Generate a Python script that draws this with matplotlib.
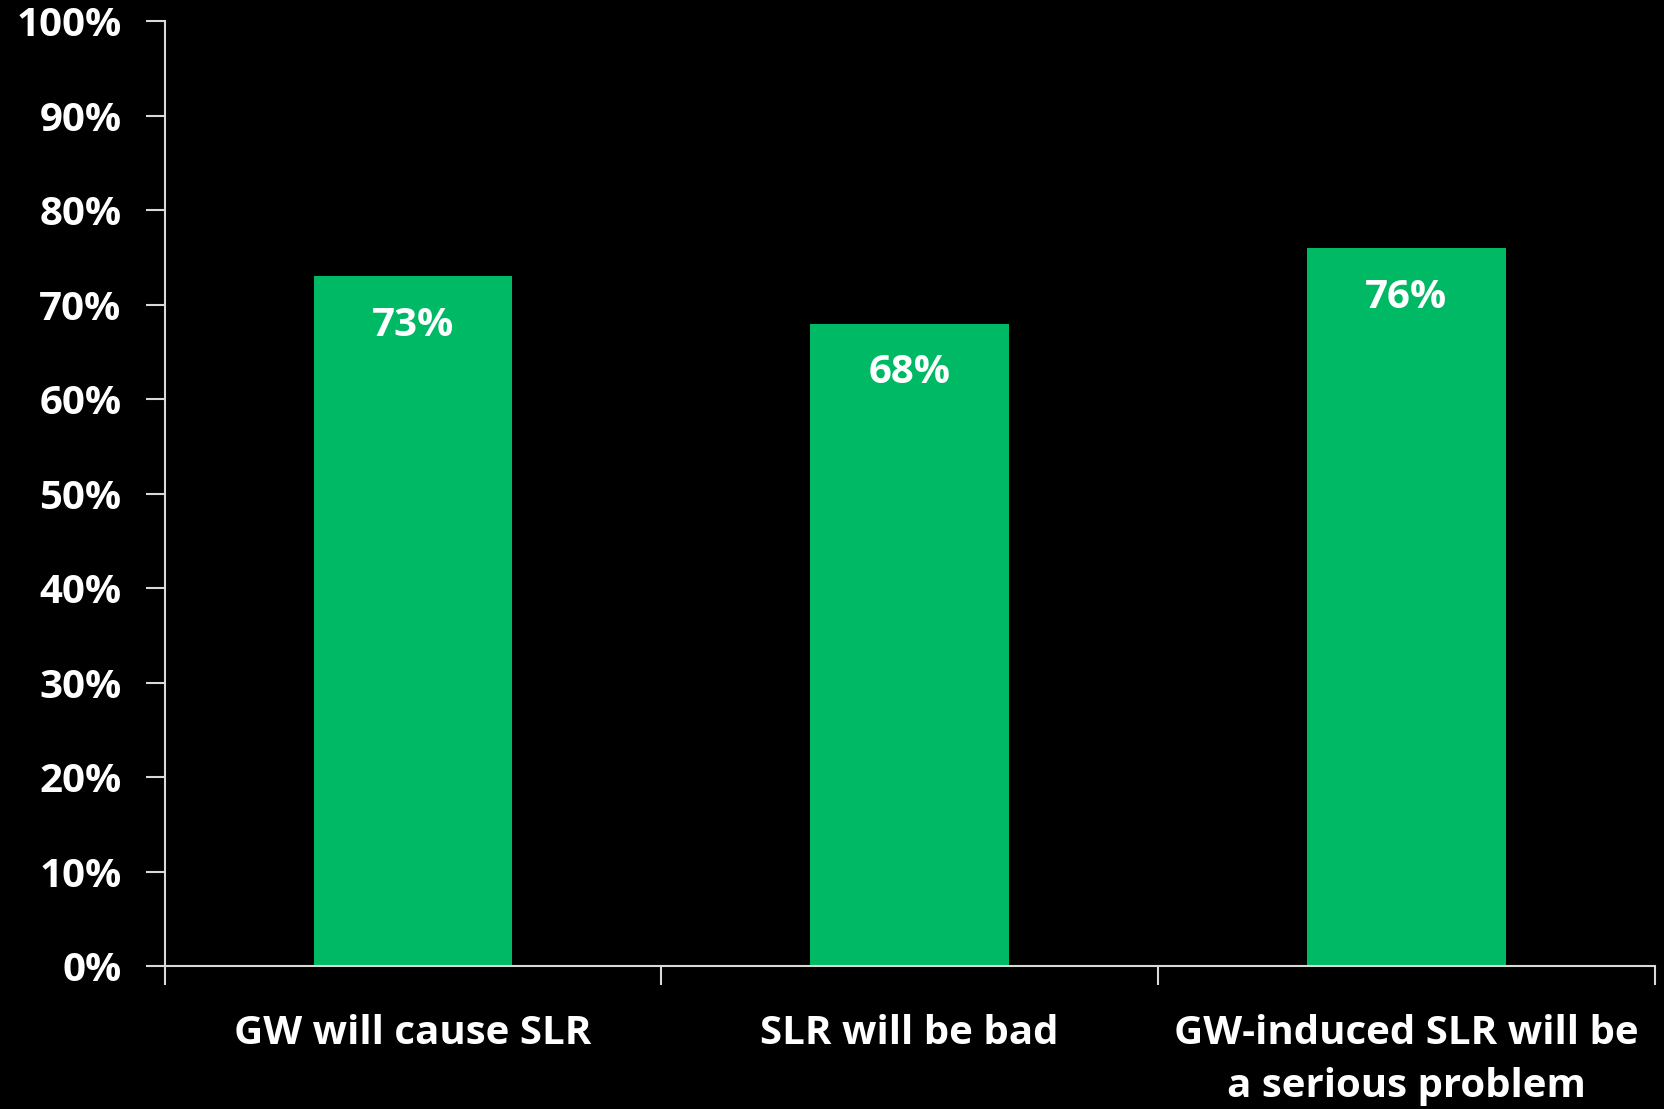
import matplotlib
matplotlib.use("Agg")
import matplotlib.pyplot as plt
from matplotlib.ticker import PercentFormatter

categories = ["GW will cause SLR", "SLR will be bad", "GW-induced SLR will be\na serious problem"]
values = [73, 68, 76]
value_labels = ["73%", "68%", "76%"]
yticks = [0, 10, 20, 30, 40, 50, 60, 70, 80, 90, 100]

plt.rcParams['font.family'] = ['Open Sans', 'DejaVu Sans']
plt.rcParams['font.weight'] = 'bold'

fig = plt.figure(figsize=(16.65, 11.09), dpi=100, facecolor='black')
ax = fig.add_axes([0.0989, 0.1286, 0.9937 - 0.0989, 0.9809 - 0.1286])
ax.set_facecolor('black')

x = list(range(len(categories)))
ax.bar(x, values, width=0.4, color='#00B964', zorder=2)
for xi, v, lab in zip(x, values, value_labels):
    ax.text(xi, v - 5.2, lab, ha='center', va='center', color='white',
            fontsize=29, fontweight='bold')

ax.set_xlim(-0.5, len(categories) - 0.5)
ax.set_ylim(0, 100)
ax.set_yticks(yticks)
ax.yaxis.set_major_formatter(PercentFormatter(decimals=0))
ax.set_xticks([-0.5 + i for i in range(len(categories) + 1)])
ax.set_xticklabels([])
ax.set_xticks(x, minor=True)
ax.set_xticklabels(categories, minor=True, linespacing=1.47)
ax.tick_params(axis='x', which='minor', length=0, pad=34, labelsize=29, labelcolor='white')
ax.tick_params(axis='x', which='major', length=14, width=1.5, color='#d9d9d9', direction='out')
ax.tick_params(axis='y', length=14, width=1.5, color='#d9d9d9', pad=17, labelsize=29, labelcolor='white')
for lab in ax.get_yticklabels() + ax.get_xticklabels(minor=True):
    lab.set_fontweight('bold')

for s in ['top', 'right']:
    ax.spines[s].set_visible(False)
for s in ['left', 'bottom']:
    ax.spines[s].set_color('#d9d9d9')
    ax.spines[s].set_linewidth(1.5)

fig.savefig('out.png', dpi=100, facecolor='black')
